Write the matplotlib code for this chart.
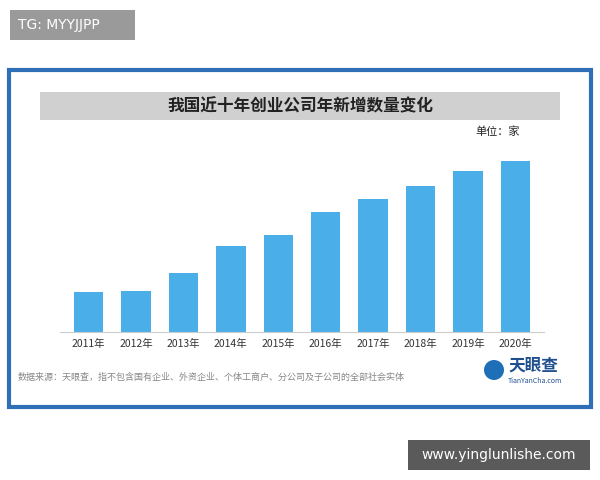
import matplotlib.pyplot as plt
from matplotlib.patches import Rectangle, Ellipse

plt.rcParams['font.family'] = ['Noto Sans CJK SC', 'DejaVu Sans']

years = ['2011年', '2012年', '2013年', '2014年', '2015年',
         '2016年', '2017年', '2018年', '2019年', '2020年']
# relative heights (no axis values shown)
counts = [40, 41, 59, 86, 97, 120, 133, 146, 161, 171]

W, H = 600, 480
fig = plt.figure(figsize=(6, 4.8), dpi=100)
fig.patch.set_facecolor('white')

def px_box(x0, y0, x1, y1, **kw):
    # rectangle in pixel coords (y from top)
    fig.patches.append(Rectangle((x0 / W, 1 - y1 / H), (x1 - x0) / W, (y1 - y0) / H,
                                 transform=fig.transFigure, figure=fig, zorder=0, **kw))

def px_text(x, y, s, **kw):
    fig.text(x / W, 1 - y / H, s, **kw)

# watermark label top-left
px_box(10, 10, 135, 40, facecolor='#9a9a9a', edgecolor='none')
px_text(18, 25, 'TG: MYYJJPP', color='white', fontsize=10, va='center', family='DejaVu Sans')

# framed panel
px_box(9, 70, 591, 407, facecolor='white', edgecolor='#2f6fb7', linewidth=3)
px_box(40, 92, 560, 120, facecolor='#d0d0d0', edgecolor='none')
px_text(300, 106, '我国近十年创业公司年新增数量变化', fontsize=12, fontweight='bold',
        ha='center', va='center', color='#222222')
px_text(520, 132, '单位：家', fontsize=8, ha='right', va='center', color='#222222')

# bars
ax = fig.add_axes([60 / W, (H - 332) / H, 484 / W, 180 / H])
ax.set_zorder(5)
ax.bar(range(len(years)), counts, width=0.62, color='#4aaee8')
ax.set_xlim(-0.6, 9.6)
ax.set_ylim(0, 180)
ax.set_xticks(range(len(years)))
ax.set_xticklabels(years, fontsize=7.5, color='#333333')
ax.tick_params(axis='x', length=0, pad=5)
ax.set_yticks([])
for s in ['top', 'right', 'left']:
    ax.spines[s].set_visible(False)
ax.spines['bottom'].set_color('#cccccc')
ax.patch.set_alpha(0)

px_text(18, 377, '数据来源：天眼查，指不包含国有企业、外资企业、个体工商户、分公司及子公司的全部社会实体',
        fontsize=6.5, color='#888888', va='center')

# logo
fig.patches.append(Ellipse((494 / W, 1 - 370 / H), 20 / W, 20 / H, transform=fig.transFigure,
                           figure=fig, facecolor='#1f6fb8', zorder=2))
px_text(508, 366, '天眼查', fontsize=12, fontweight='bold', color='#1f4f8f', va='center')
px_text(508, 381, 'TianYanCha.com', fontsize=5, color='#1f4f8f', va='center')

# bottom-right site label
px_box(408, 440, 590, 470, facecolor='#5a5a5a', edgecolor='none')
px_text(499, 455, 'www.yinglunlishe.com', color='white', fontsize=10, ha='center', va='center',
        family='DejaVu Sans')

fig.savefig('out.png', dpi=100)
